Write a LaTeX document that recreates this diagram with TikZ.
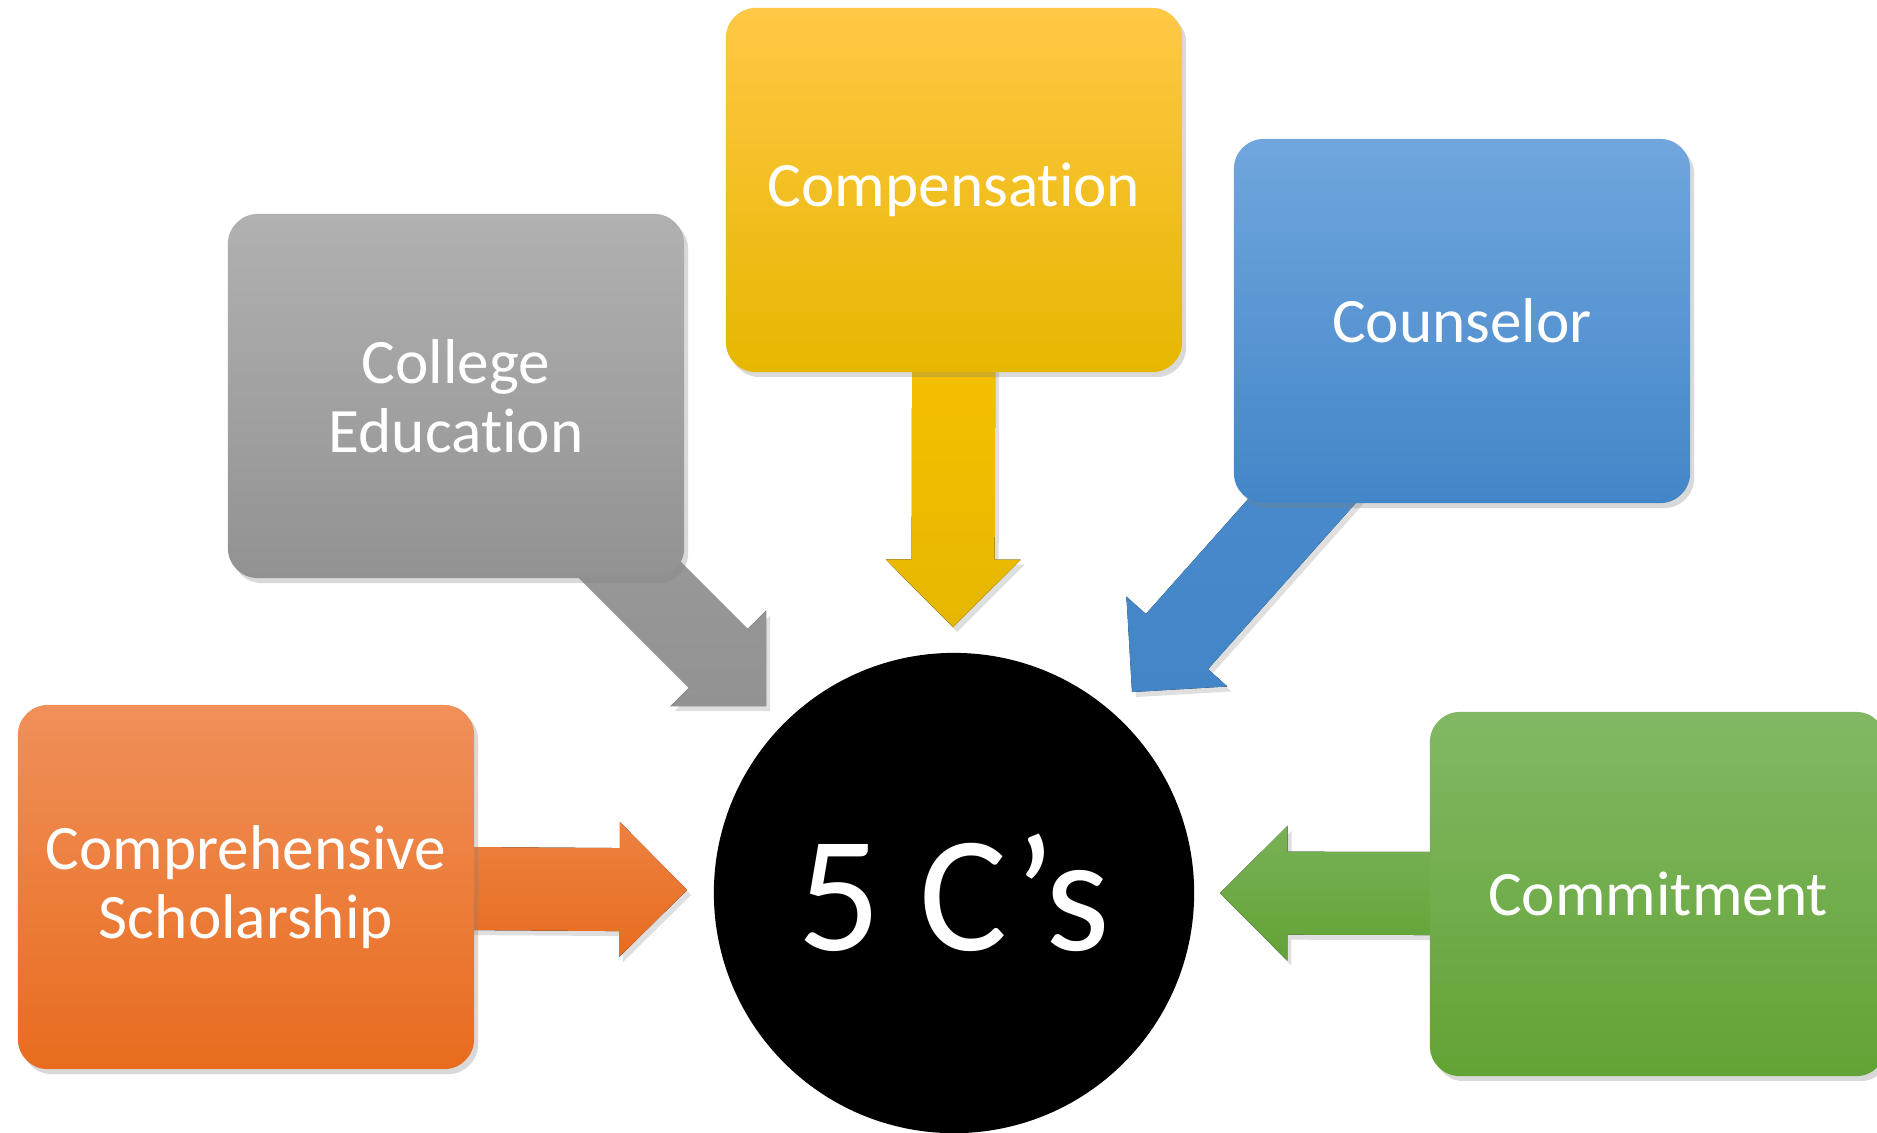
\documentclass[tikz,border=0pt]{standalone}
\usepackage{fontspec}
\setmainfont{Carlito}[Ligatures=NoCommon]
\usetikzlibrary{calc}
\usetikzlibrary{shadows}
\usetikzlibrary{backgrounds}

\definecolor{compTop}{HTML}{FFC846}
\definecolor{compBot}{HTML}{E6B700}
\definecolor{compArrow}{HTML}{FFC600}
\definecolor{collTop}{HTML}{B1B1B1}
\definecolor{collBot}{HTML}{929292}
\definecolor{counTop}{HTML}{70A6DD}
\definecolor{counBot}{HTML}{4386C8}
\definecolor{scholTop}{HTML}{F0905A}
\definecolor{scholBot}{HTML}{E86C1E}
\definecolor{commTop}{HTML}{82B864}
\definecolor{commBot}{HTML}{62A335}

\tikzset{
  cbox/.style={rectangle, rounded corners=0.3cm, minimum width=4.56cm,
    minimum height=3.64cm, text=white, align=center,
    font=\fontsize{18}{19.5}\selectfont,
    drop shadow={opacity=0.3, shadow xshift=0.04cm, shadow yshift=-0.05cm}},
  fatarrow/.style={drop shadow={opacity=0.25, shadow xshift=0.04cm, shadow yshift=-0.05cm}}
}

% block arrow from #1 to tip #2, fill style #3
\newcommand{\blockarrow}[3]{%
  \coordinate (h) at ($(#2)!0.675cm!(#1)$);
  \fill[fatarrow,#3] ($(#1)!0.415cm!90:(#2)$) -- ($(h)!0.415cm!-90:(#1)$)
    -- ($(h)!0.675cm!-90:(#1)$) -- (#2) -- ($(h)!0.675cm!90:(#1)$)
    -- ($(h)!0.415cm!90:(#1)$) -- ($(#1)!0.415cm!-90:(#2)$) -- cycle;}

\begin{document}
\begin{tikzpicture}[x=0.01cm,y=-0.01cm]
\useasboundingbox (0,0) rectangle (1877,1132);

\node[circle, fill=black, minimum size=4.8cm, text=white,
  font=\fontsize{47}{50}\selectfont] (five) at (954,893) {5 C’s};

\node[cbox, top color=compTop, bottom color=compBot] (comp) at (954,190) {Compensation};
\node[cbox, top color=collTop, bottom color=collBot] (coll) at (456,396) {College\\Education};
\node[cbox, top color=counTop, bottom color=counBot] (coun) at (1462,321) {Counselor};
\node[cbox, top color=scholTop, bottom color=scholBot] (schol) at (246,887) {Comprehensive\\Scholarship};
\node[cbox, top color=commTop, bottom color=commBot] (comm) at (1658,894) {Commitment};

\coordinate (tipComp) at (953,627);
\coordinate (tipColl) at (766,706);
\coordinate (tipCoun) at (1132,692);
\coordinate (tipSchol) at (687,890);
\coordinate (tipComm) at (1220,893);

\begin{pgfonlayer}{background}
\blockarrow{comp.center}{tipComp}{top color=compArrow, bottom color=compBot} %down
\blockarrow{coll.center}{tipColl}{top color=collTop!90!black, bottom color=collBot}
\blockarrow{coun.center}{tipCoun}{top color=counBot!80!counTop, bottom color=counBot}
\blockarrow{schol.center}{tipSchol}{top color=scholTop!60!scholBot, bottom color=scholBot}
\blockarrow{comm.center}{tipComm}{top color=commTop!70!commBot, bottom color=commBot}
\end{pgfonlayer}
\end{tikzpicture}
\end{document}
